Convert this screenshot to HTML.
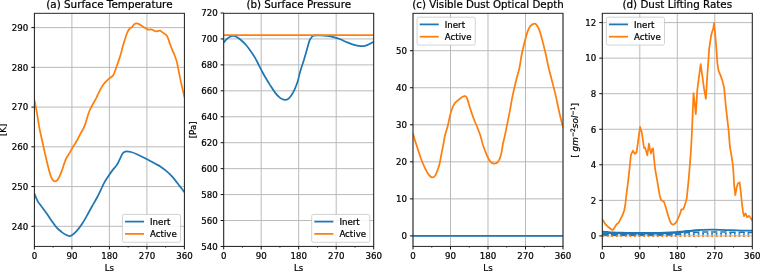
<!DOCTYPE html>
<html lang="en"><head><meta charset="utf-8"><title>Inert vs Active dust simulations</title>
<style>html,body{margin:0;padding:0;background:#fff}body{width:760px;height:271px;overflow:hidden}svg{display:block;will-change:transform}text{font-family:'DejaVu Sans', 'Liberation Sans', sans-serif;fill:#000;stroke:#000;stroke-width:0.22px;stroke-linejoin:round}</style>
</head><body>
<svg width="760" height="271" viewBox="0 0 760 271">
<rect width="760" height="271" fill="#fff"/>
<defs>
<clipPath id="c0"><rect x="34.4" y="13.3" width="150" height="233.1"/></clipPath>
<clipPath id="c1"><rect x="223.7" y="13.3" width="150" height="233.1"/></clipPath>
<clipPath id="c2"><rect x="413" y="13.3" width="150" height="233.1"/></clipPath>
<clipPath id="c3"><rect x="602.3" y="13.3" width="150" height="233.1"/></clipPath>
<clipPath id="dl"><rect x="602.3" y="13.3" width="77.5" height="233.1"/></clipPath>
<clipPath id="dr"><rect x="679.8" y="13.3" width="72.5" height="233.1"/></clipPath>
</defs>
<g>
<path d="M34.4 13.3V246.4M71.9 13.3V246.4M109.4 13.3V246.4M146.9 13.3V246.4M184.4 13.3V246.4M34.4 27.6H184.4M34.4 67.34H184.4M34.4 107.08H184.4M34.4 146.82H184.4M34.4 186.56H184.4M34.4 226.3H184.4" stroke="#b6b6b6" stroke-width="0.95" fill="none"/>
<g clip-path="url(#c0)" fill="none" stroke-linejoin="round" stroke-width="1.75">
<path d="M34.4 193.7 C34.92 194.9 36.28 198.73 37.5 200.9 C38.72 203.07 40.17 204.62 41.7 206.7 C43.23 208.78 45.03 211.03 46.7 213.4 C48.37 215.77 50.03 218.53 51.7 220.9 C53.37 223.27 55.02 225.73 56.7 227.6 C58.38 229.47 60.27 230.9 61.8 232.1 C63.33 233.3 64.7 234.15 65.9 234.8 C67.1 235.45 68.02 235.92 69 236 C69.98 236.08 70.5 236.15 71.8 235.3 C73.1 234.45 75.13 232.73 76.8 230.9 C78.47 229.07 80.13 226.8 81.8 224.3 C83.47 221.8 85.13 218.83 86.8 215.9 C88.47 212.97 90.13 209.68 91.8 206.7 C93.47 203.72 95.3 200.78 96.8 198 C98.3 195.22 99.55 192.57 100.8 190 C102.05 187.43 103.02 184.95 104.3 182.6 C105.58 180.25 107.12 177.98 108.5 175.9 C109.88 173.82 111.22 171.9 112.6 170.1 C113.98 168.3 115.6 166.92 116.8 165.1 C118 163.28 118.9 161.02 119.8 159.2 C120.7 157.38 121.45 155.4 122.2 154.2 C122.95 153 123.53 152.47 124.3 152 C125.07 151.53 125.68 151.4 126.8 151.4 C127.92 151.4 129.32 151.53 131 152 C132.68 152.47 134.8 153.28 136.9 154.2 C139 155.12 141.38 156.38 143.6 157.5 C145.82 158.62 148.25 159.87 150.2 160.9 C152.15 161.93 153.62 162.78 155.3 163.7 C156.98 164.62 158.63 165.33 160.3 166.4 C161.97 167.47 163.63 168.72 165.3 170.1 C166.97 171.48 168.63 172.98 170.3 174.7 C171.97 176.42 173.77 178.53 175.3 180.4 C176.83 182.27 178.25 184.3 179.5 185.9 C180.75 187.5 181.93 188.88 182.8 190 C183.67 191.12 184.38 192.17 184.7 192.6" stroke="#1f77b4"/>
<path d="M34.4 100 C34.78 101.95 35.9 107.23 36.7 111.7 C37.5 116.17 38.32 122.08 39.2 126.8 C40.08 131.52 41.17 136.13 42 140 C42.83 143.87 43.42 146.52 44.2 150 C44.98 153.48 45.87 157.42 46.7 160.9 C47.53 164.38 48.42 168.12 49.2 170.9 C49.98 173.68 50.7 175.98 51.4 177.6 C52.1 179.22 52.78 179.98 53.4 180.6 C54.02 181.22 54.48 181.33 55.1 181.3 C55.72 181.27 56.42 181.1 57.1 180.4 C57.78 179.7 58.42 178.68 59.2 177.1 C59.98 175.52 60.95 173.18 61.8 170.9 C62.65 168.62 63.53 165.55 64.3 163.4 C65.07 161.25 65.57 159.67 66.4 158 C67.23 156.33 68.27 155.15 69.3 153.4 C70.33 151.65 71.57 149.23 72.6 147.5 C73.63 145.77 74.73 144.25 75.5 143 C76.27 141.75 76.43 141.45 77.2 140 C77.97 138.55 79.05 136.23 80.1 134.3 C81.15 132.37 82.6 130.22 83.5 128.4 C84.4 126.58 84.8 125.48 85.5 123.4 C86.2 121.32 86.98 118.13 87.7 115.9 C88.42 113.67 88.83 112.15 89.8 110 C90.77 107.85 92.4 105.02 93.5 103 C94.6 100.98 95.58 99.5 96.4 97.9 C97.22 96.3 97.5 95.23 98.4 93.4 C99.3 91.57 100.68 88.73 101.8 86.9 C102.92 85.07 103.85 83.82 105.1 82.4 C106.35 80.98 107.97 79.57 109.3 78.4 C110.63 77.23 112.13 76.65 113.1 75.4 C114.07 74.15 114.33 72.9 115.1 70.9 C115.87 68.9 116.8 66.05 117.7 63.4 C118.6 60.75 119.67 57.77 120.5 55 C121.33 52.23 121.92 49.57 122.7 46.8 C123.48 44.03 124.37 40.92 125.2 38.4 C126.03 35.88 126.92 33.37 127.7 31.7 C128.48 30.03 129.15 29.18 129.9 28.4 C130.65 27.62 131.45 27.7 132.2 27 C132.95 26.3 133.68 24.8 134.4 24.2 C135.12 23.6 135.82 23.45 136.5 23.4 C137.18 23.35 137.47 23.4 138.5 23.9 C139.53 24.4 141.43 25.65 142.7 26.4 C143.97 27.15 145.18 27.85 146.1 28.4 C147.02 28.95 147.37 29.53 148.2 29.7 C149.03 29.87 150.2 29.28 151.1 29.4 C152 29.52 152.77 30.07 153.6 30.4 C154.43 30.73 155.05 31.35 156.1 31.4 C157.15 31.45 158.78 30.5 159.9 30.7 C161.02 30.9 161.62 31.73 162.8 32.6 C163.98 33.47 165.88 34.23 167 35.9 C168.12 37.57 168.67 40.37 169.5 42.6 C170.33 44.83 171.17 47.23 172 49.3 C172.83 51.37 173.67 52.8 174.5 55 C175.33 57.2 176.17 59.15 177 62.5 C177.83 65.85 178.67 71.05 179.5 75.1 C180.33 79.15 181.13 82.98 182 86.8 C182.87 90.62 184.25 96.13 184.7 98" stroke="#ff7f0e"/>
</g>
<path d="M34.4 246.4v3.03M71.9 246.4v3.03M109.4 246.4v3.03M146.9 246.4v3.03M184.4 246.4v3.03M34.4 27.6h-3.03M34.4 67.34h-3.03M34.4 107.08h-3.03M34.4 146.82h-3.03M34.4 186.56h-3.03M34.4 226.3h-3.03" stroke="#000" stroke-width="0.95" fill="none"/>
<path d="M53.15 246.4v1.73M90.65 246.4v1.73M128.15 246.4v1.73M165.65 246.4v1.73" stroke="#000" stroke-width="0.52" fill="none"/>
<rect x="34.4" y="13.3" width="150" height="233.1" fill="none" stroke="#1c1c1c" stroke-width="0.95"/>
<g font-size="8.65" text-anchor="middle">
<text x="34.4" y="259.3">0</text>
<text x="71.9" y="259.3">90</text>
<text x="109.4" y="259.3">180</text>
<text x="146.9" y="259.3">270</text>
<text x="184.4" y="259.3">360</text>
<text x="109.4" y="271.1">Ls</text>
</g>
<g font-size="8.65" text-anchor="end">
<text x="28.34" y="30.9">290</text>
<text x="28.34" y="70.64">280</text>
<text x="28.34" y="110.38">270</text>
<text x="28.34" y="150.12">260</text>
<text x="28.34" y="189.86">250</text>
<text x="28.34" y="229.6">240</text>
</g>
<text x="109.4" y="8.1" font-size="10.38" text-anchor="middle">(a) Surface Temperature</text>
<text transform="translate(6.3 129.85) rotate(-90)" font-size="8.65" text-anchor="middle">[K]</text>
<rect x="122.4" y="214.4" width="58.1" height="27.9" rx="1.73" fill="#fff" fill-opacity="0.87" stroke="#c6c6c6" stroke-opacity="0.9" stroke-width="0.86"/>
<path d="M125.86 221.6H143.16" stroke="#1f77b4" stroke-width="1.75" stroke-linecap="square"/>
<text x="150.08" y="224.9" font-size="8.65">Inert</text>
<path d="M125.86 233.9H143.16" stroke="#ff7f0e" stroke-width="1.75" stroke-linecap="square"/>
<text x="150.08" y="237.2" font-size="8.65">Active</text>
</g>
<g>
<path d="M223.7 13.3V246.4M261.2 13.3V246.4M298.7 13.3V246.4M336.2 13.3V246.4M373.7 13.3V246.4M223.7 38.94H373.7M223.7 64.88H373.7M223.7 90.82H373.7M223.7 116.76H373.7M223.7 142.7H373.7M223.7 168.64H373.7M223.7 194.58H373.7M223.7 220.52H373.7M223.7 246.46H373.7" stroke="#b6b6b6" stroke-width="0.95" fill="none"/>
<g clip-path="url(#c1)" fill="none" stroke-linejoin="round" stroke-width="1.75">
<path d="M223.7 42.5 C224.2 41.95 225.65 40.17 226.7 39.2 C227.75 38.23 228.88 37.25 230 36.7 C231.12 36.15 232.28 35.85 233.4 35.9 C234.52 35.95 235.45 36.32 236.7 37 C237.95 37.68 239.34 38.67 240.9 40 C242.46 41.33 244.4 43.12 246.05 45 C247.7 46.88 249.31 49.2 250.8 51.3 C252.29 53.4 253.68 55.35 255 57.6 C256.32 59.85 257.38 62.23 258.7 64.8 C260.02 67.37 261.6 70.58 262.9 73 C264.2 75.42 265.3 77.28 266.5 79.3 C267.7 81.32 268.67 82.88 270.1 85.1 C271.53 87.32 273.58 90.6 275.1 92.6 C276.62 94.6 277.95 95.98 279.2 97.1 C280.45 98.22 281.62 98.85 282.6 99.3 C283.58 99.75 284.27 99.8 285.1 99.8 C285.93 99.8 286.63 99.95 287.6 99.3 C288.57 98.65 289.78 97.43 290.9 95.9 C292.02 94.37 293.18 92.47 294.3 90.1 C295.42 87.73 296.68 84.55 297.6 81.7 C298.52 78.85 299.08 75.6 299.8 73 C300.52 70.4 301.2 68.32 301.9 66.1 C302.6 63.88 303.3 61.98 304 59.7 C304.7 57.42 305.4 54.85 306.1 52.4 C306.8 49.95 307.6 47.03 308.2 45 C308.8 42.97 309.1 41.53 309.7 40.2 C310.3 38.87 311.12 37.77 311.8 37 C312.48 36.23 312.38 35.85 313.8 35.6 C315.22 35.35 318.1 35.43 320.3 35.5 C322.5 35.57 324.78 35.72 327 36 C329.22 36.28 331.38 36.67 333.6 37.2 C335.82 37.73 338.3 38.45 340.3 39.2 C342.3 39.95 343.45 40.78 345.6 41.7 C347.75 42.62 350.68 43.95 353.2 44.7 C355.72 45.45 358.62 46.03 360.7 46.2 C362.78 46.37 364.03 46.17 365.7 45.7 C367.37 45.23 369.32 44.07 370.7 43.4 C372.08 42.73 373.45 41.98 374 41.7" stroke="#1f77b4"/>
<path d="M223.7 35.05H373.7" stroke="#ff7f0e"/>
</g>
<path d="M223.7 246.4v3.03M261.2 246.4v3.03M298.7 246.4v3.03M336.2 246.4v3.03M373.7 246.4v3.03M223.7 13h-3.03M223.7 38.94h-3.03M223.7 64.88h-3.03M223.7 90.82h-3.03M223.7 116.76h-3.03M223.7 142.7h-3.03M223.7 168.64h-3.03M223.7 194.58h-3.03M223.7 220.52h-3.03M223.7 246.46h-3.03" stroke="#000" stroke-width="0.95" fill="none"/>
<path d="M242.45 246.4v1.73M279.95 246.4v1.73M317.45 246.4v1.73M354.95 246.4v1.73" stroke="#000" stroke-width="0.52" fill="none"/>
<rect x="223.7" y="13.3" width="150" height="233.1" fill="none" stroke="#1c1c1c" stroke-width="0.95"/>
<g font-size="8.65" text-anchor="middle">
<text x="223.7" y="259.3">0</text>
<text x="261.2" y="259.3">90</text>
<text x="298.7" y="259.3">180</text>
<text x="336.2" y="259.3">270</text>
<text x="373.7" y="259.3">360</text>
<text x="298.7" y="271.1">Ls</text>
</g>
<g font-size="8.65" text-anchor="end">
<text x="217.64" y="16.3">720</text>
<text x="217.64" y="42.24">700</text>
<text x="217.64" y="68.18">680</text>
<text x="217.64" y="94.12">660</text>
<text x="217.64" y="120.06">640</text>
<text x="217.64" y="146">620</text>
<text x="217.64" y="171.94">600</text>
<text x="217.64" y="197.88">580</text>
<text x="217.64" y="223.82">560</text>
<text x="217.64" y="249.76">540</text>
</g>
<text x="298.7" y="8.1" font-size="10.33" text-anchor="middle">(b) Surface Pressure</text>
<text transform="translate(195.6 129.85) rotate(-90)" font-size="8.65" text-anchor="middle">[Pa]</text>
<rect x="311.7" y="214.4" width="58.1" height="27.9" rx="1.73" fill="#fff" fill-opacity="0.87" stroke="#c6c6c6" stroke-opacity="0.9" stroke-width="0.86"/>
<path d="M315.16 221.6H332.46" stroke="#1f77b4" stroke-width="1.75" stroke-linecap="square"/>
<text x="339.38" y="224.9" font-size="8.65">Inert</text>
<path d="M315.16 233.9H332.46" stroke="#ff7f0e" stroke-width="1.75" stroke-linecap="square"/>
<text x="339.38" y="237.2" font-size="8.65">Active</text>
</g>
<g>
<path d="M413 13.3V246.4M450.5 13.3V246.4M488 13.3V246.4M525.5 13.3V246.4M563 13.3V246.4M413 50.7H563M413 87.74H563M413 124.78H563M413 161.82H563M413 198.86H563M413 235.9H563" stroke="#b6b6b6" stroke-width="0.95" fill="none"/>
<g clip-path="url(#c2)" fill="none" stroke-linejoin="round" stroke-width="1.75">
<path d="M413 235.9H563" stroke="#1f77b4"/>
<path d="M412.9 132.7 C413.15 133.67 413.62 135.87 414.4 138.5 C415.18 141.13 416.43 144.95 417.6 148.5 C418.77 152.05 420.13 156.45 421.4 159.8 C422.67 163.15 423.95 166.08 425.2 168.6 C426.45 171.12 427.73 173.43 428.9 174.9 C430.07 176.37 431.15 177.28 432.2 177.4 C433.25 177.52 434.07 177.48 435.2 175.6 C436.33 173.72 437.95 169.77 439 166.1 C440.05 162.43 440.67 157.78 441.5 153.6 C442.33 149.42 443.45 143.93 444 141 C444.55 138.07 444.17 138.55 444.8 136 C445.43 133.45 446.88 129.3 447.8 125.7 C448.72 122.1 449.47 117.53 450.3 114.4 C451.13 111.27 451.97 108.87 452.8 106.9 C453.63 104.93 454.38 103.73 455.3 102.6 C456.22 101.47 457.15 101.05 458.3 100.1 C459.45 99.15 461.02 97.57 462.2 96.9 C463.38 96.23 464.57 95.82 465.4 96.1 C466.23 96.38 466.48 96.8 467.2 98.6 C467.92 100.4 468.65 103.63 469.7 106.9 C470.75 110.17 472.25 114.85 473.5 118.2 C474.75 121.55 476.03 124.03 477.2 127 C478.37 129.97 479.55 133.03 480.5 136 C481.45 138.97 481.87 141.67 482.9 144.8 C483.93 147.93 485.45 152 486.7 154.8 C487.95 157.6 489.15 160.13 490.4 161.6 C491.65 163.07 492.93 163.55 494.2 163.6 C495.47 163.65 496.87 163.37 498 161.9 C499.13 160.43 500.17 157.87 501 154.8 C501.83 151.73 502.37 146.63 503 143.5 C503.63 140.37 504.07 139.38 504.8 136 C505.53 132.62 506.55 127.42 507.4 123.2 C508.25 118.98 509.07 115.08 509.9 110.7 C510.73 106.32 511.37 101.93 512.4 96.9 C513.43 91.87 514.93 85.32 516.1 80.5 C517.27 75.68 518.45 72.42 519.4 68 C520.35 63.58 520.85 58.63 521.8 54 C522.75 49.37 524.05 44.18 525.1 40.2 C526.15 36.22 527.18 32.48 528.1 30.1 C529.02 27.72 529.68 26.95 530.6 25.9 C531.52 24.85 532.68 24.07 533.6 23.8 C534.52 23.53 535.13 23.25 536.1 24.3 C537.07 25.35 538.32 27.25 539.4 30.1 C540.48 32.95 541.55 37.42 542.6 41.4 C543.65 45.38 544.68 49.57 545.7 54 C546.72 58.43 547.67 63.58 548.7 68 C549.73 72.42 550.73 75.9 551.9 80.5 C553.07 85.1 554.43 90.15 555.7 95.6 C556.97 101.05 558.25 107.77 559.5 113.2 C560.75 118.63 562.58 125.7 563.2 128.2" stroke="#ff7f0e"/>
</g>
<path d="M413 246.4v3.03M450.5 246.4v3.03M488 246.4v3.03M525.5 246.4v3.03M563 246.4v3.03M413 50.7h-3.03M413 87.74h-3.03M413 124.78h-3.03M413 161.82h-3.03M413 198.86h-3.03M413 235.9h-3.03" stroke="#000" stroke-width="0.95" fill="none"/>
<path d="M431.75 246.4v1.73M469.25 246.4v1.73M506.75 246.4v1.73M544.25 246.4v1.73" stroke="#000" stroke-width="0.52" fill="none"/>
<rect x="413" y="13.3" width="150" height="233.1" fill="none" stroke="#1c1c1c" stroke-width="0.95"/>
<g font-size="8.65" text-anchor="middle">
<text x="413" y="259.3">0</text>
<text x="450.5" y="259.3">90</text>
<text x="488" y="259.3">180</text>
<text x="525.5" y="259.3">270</text>
<text x="563" y="259.3">360</text>
<text x="488" y="271.1">Ls</text>
</g>
<g font-size="8.65" text-anchor="end">
<text x="406.94" y="54">50</text>
<text x="406.94" y="91.04">40</text>
<text x="406.94" y="128.08">30</text>
<text x="406.94" y="165.12">20</text>
<text x="406.94" y="202.16">10</text>
<text x="406.94" y="239.2">0</text>
</g>
<text x="488" y="8.1" font-size="10.25" text-anchor="middle">(c) Visible Dust Optical Depth</text>
<rect x="417.1" y="17.2" width="58.1" height="27.9" rx="1.73" fill="#fff" fill-opacity="0.87" stroke="#c6c6c6" stroke-opacity="0.9" stroke-width="0.86"/>
<path d="M420.56 24.4H437.86" stroke="#1f77b4" stroke-width="1.75" stroke-linecap="square"/>
<text x="444.78" y="27.7" font-size="8.65">Inert</text>
<path d="M420.56 36.7H437.86" stroke="#ff7f0e" stroke-width="1.75" stroke-linecap="square"/>
<text x="444.78" y="40" font-size="8.65">Active</text>
</g>
<g>
<path d="M602.3 13.3V246.4M639.8 13.3V246.4M677.3 13.3V246.4M714.8 13.3V246.4M752.3 13.3V246.4M602.3 22.6H752.3M602.3 58.15H752.3M602.3 93.7H752.3M602.3 129.25H752.3M602.3 164.8H752.3M602.3 200.35H752.3M602.3 235.9H752.3" stroke="#b6b6b6" stroke-width="0.95" fill="none"/>
<g clip-path="url(#c3)" fill="none" stroke-linejoin="round" stroke-width="1.75">
<path d="M602.3 231.46 C603.13 231.55 605.56 231.83 607.3 231.99 C609.04 232.15 610.42 232.31 612.72 232.43 C615.01 232.56 617.92 232.66 621.05 232.74 C624.17 232.82 628.34 232.88 631.47 232.91 C634.59 232.95 636.33 232.97 639.8 232.97 C643.27 232.97 648.13 232.97 652.3 232.91 C656.47 232.85 660.98 232.75 664.8 232.61 C668.62 232.47 672.09 232.3 675.22 232.08 C678.34 231.86 680.77 231.53 683.55 231.28 C686.33 231.03 688.76 230.79 691.88 230.57 C695.01 230.35 699.04 230.11 702.3 229.95 C705.56 229.78 708.34 229.62 711.47 229.59 C714.59 229.56 717.72 229.66 721.05 229.77 C724.38 229.87 727.99 230.08 731.47 230.21 C734.94 230.35 738.41 230.49 741.88 230.57 C745.36 230.64 750.56 230.64 752.3 230.66" stroke="#1f77b4"/>
<path d="M602.3 233.23 C603.13 233.23 605.56 233.22 607.3 233.23 C609.04 233.25 610.42 233.28 612.72 233.32 C615.01 233.37 617.92 233.45 621.05 233.5 C624.17 233.55 628.34 233.6 631.47 233.62 C634.59 233.65 636.33 233.68 639.8 233.68 C643.27 233.68 648.13 233.69 652.3 233.64 C656.47 233.6 660.98 233.54 664.8 233.41 C668.62 233.28 672.09 233.13 675.22 232.88 C678.34 232.63 680.77 232.24 683.55 231.9 C686.33 231.56 689.11 231.13 691.88 230.83 C694.66 230.54 698.83 230.24 700.22 230.12" stroke="#1f77b4"/>
<g clip-path="url(#dl)"><path d="M602.3 234.9 C606.47 234.91 618.97 234.93 627.3 234.94 C635.63 234.95 645.36 234.96 652.3 234.94 C659.24 234.92 664.8 234.93 668.97 234.8 C673.13 234.66 674.87 234.41 677.3 234.12 C679.73 233.83 681.12 233.34 683.55 233.06 C685.98 232.77 688.76 232.59 691.88 232.43 C695.01 232.28 698.83 232.19 702.3 232.11 C705.77 232.04 708.55 231.99 712.72 231.99 C716.88 231.99 722.44 232.07 727.3 232.13 C732.16 232.19 737.72 232.29 741.88 232.34 C746.05 232.4 750.56 232.42 752.3 232.43" stroke="#1f77b4" stroke-width="1.95" stroke-dasharray="6.35 2.74" stroke-dashoffset="0.05"/></g>
<g clip-path="url(#dr)"><path d="M602.3 234.9 C606.47 234.91 618.97 234.93 627.3 234.94 C635.63 234.95 645.36 234.96 652.3 234.94 C659.24 234.92 664.8 234.93 668.97 234.8 C673.13 234.66 674.87 234.41 677.3 234.12 C679.73 233.83 681.12 233.34 683.55 233.06 C685.98 232.77 688.76 232.59 691.88 232.43 C695.01 232.28 698.83 232.19 702.3 232.11 C705.77 232.04 708.55 231.99 712.72 231.99 C716.88 231.99 722.44 232.07 727.3 232.13 C732.16 232.19 737.72 232.29 741.88 232.34 C746.05 232.4 750.56 232.42 752.3 232.43" stroke="#1f77b4" stroke-width="1.5" stroke-dasharray="6.35 2.74" stroke-dashoffset="0.05"/></g>
<path d="M602.3 234.83 C608.55 234.83 628.34 234.85 639.8 234.83 C651.26 234.82 664.45 234.8 671.05 234.74 C677.65 234.69 676.61 234.58 679.38 234.48 C682.16 234.37 683.9 234.21 687.72 234.12 C691.54 234.03 697.79 233.98 702.3 233.94 C706.81 233.91 709.24 233.89 714.8 233.89 C720.36 233.9 729.38 233.96 735.63 233.98 C741.88 234 749.52 234.02 752.3 234.03" stroke="#1f77b4" stroke-width="1.7" stroke-dasharray="1.8 2.74" stroke-dashoffset="0.05"/>
<path d="M602.3 219.2 L605.2 224 L608.6 227.3 L610.9 229 L611.9 229.75 L612.6 230 L613.3 229.6 L614.3 227.9 L616.7 224.2 L618.7 222.6 L620.9 218.4 L622.6 215 L624.2 210.5 L625.3 205 L626 198 L627 190 L628.1 181.7 L629.2 171.7 L630.2 162 L630.9 155.1 L632.9 150.6 L634.8 153.8 L636.5 152.5 L637.6 145.1 L638.8 135.9 L640.1 126.9 L641.8 132.5 L643.1 141.7 L644 148 L645.1 147.7 L646.3 151.7 L647.3 155.3 L648.1 149.5 L649 143.7 L650 150 L651 153.4 L652 149.2 L653 148.4 L653.9 157.5 L655.2 169.5 L656.8 178.4 L658.5 188.4 L659.8 195.9 L661 199.8 L662.2 200.9 L663.7 201.2 L665.3 205.5 L666.8 210.9 L668.5 216.7 L670.2 221.7 L671.9 224.2 L673 224.7 L675.2 223.4 L676.9 220.9 L678.5 217.5 L680.2 213.4 L681.4 209.3 L683.3 209.4 L684.6 205.8 L685.6 202.5 L686.7 198.5 L687.6 190 L688.5 181 L689.3 172 L690 163 L690.7 154 L691.4 143 L692 130 L692.6 115 L693.5 93.1 L694.5 102 L695.8 114.2 L697.3 90 L699 76.7 L700.7 64.2 L702.4 76.7 L704 88.4 L705.9 98.8 L707.2 76.7 L708.2 63.4 L709.2 48.4 L711.2 35.1 L712.4 30.9 L713.2 29.2 L714.05 23 L714.9 31.7 L716.4 48.4 L717.4 63.4 L718.6 70.9 L720.7 75.9 L722.4 80.9 L724.1 87.6 L725 97 L725.7 105 L727.4 120.1 L728.6 130.1 L729.9 146.7 L731.6 156.7 L732.9 165.1 L733.6 175 L734.1 185 L735.3 195.1 L736.6 187.5 L737.9 183.4 L739.6 182.5 L740.8 191.7 L742 204 L743 211.7 L744 216.2 L745.5 213.4 L747.2 217.3 L748.8 215.9 L750.4 217.5 L752.6 220.9" stroke="#ff7f0e"/>
<path d="M602.3 236.05H752.3" stroke="#ff7f0e" stroke-width="1.7" stroke-dasharray="1.8 2.74" stroke-dashoffset="0.05"/>
</g>
<path d="M602.3 246.4v3.03M639.8 246.4v3.03M677.3 246.4v3.03M714.8 246.4v3.03M752.3 246.4v3.03M602.3 22.6h-3.03M602.3 58.15h-3.03M602.3 93.7h-3.03M602.3 129.25h-3.03M602.3 164.8h-3.03M602.3 200.35h-3.03M602.3 235.9h-3.03" stroke="#000" stroke-width="0.95" fill="none"/>
<path d="M621.05 246.4v1.73M658.55 246.4v1.73M696.05 246.4v1.73M733.55 246.4v1.73" stroke="#000" stroke-width="0.52" fill="none"/>
<rect x="602.3" y="13.3" width="150" height="233.1" fill="none" stroke="#1c1c1c" stroke-width="0.95"/>
<g font-size="8.65" text-anchor="middle">
<text x="602.3" y="259.3">0</text>
<text x="639.8" y="259.3">90</text>
<text x="677.3" y="259.3">180</text>
<text x="714.8" y="259.3">270</text>
<text x="752.3" y="259.3">360</text>
<text x="677.3" y="271.1">Ls</text>
</g>
<g font-size="8.65" text-anchor="end">
<text x="596.25" y="25.9">12</text>
<text x="596.25" y="61.45">10</text>
<text x="596.25" y="97">8</text>
<text x="596.25" y="132.55">6</text>
<text x="596.25" y="168.1">4</text>
<text x="596.25" y="203.65">2</text>
<text x="596.25" y="239.2">0</text>
</g>
<text x="677.3" y="8.1" font-size="10.33" text-anchor="middle">(d) Dust Lifting Rates</text>
<text transform="translate(578.2 130.45) rotate(-90)" font-size="8.95" text-anchor="middle">[ <tspan font-style="italic">gm</tspan><tspan font-size="6.05" dy="-3.11">−2</tspan><tspan font-style="italic" dy="3.11">sol</tspan><tspan font-size="6.05" dy="-3.11">−1</tspan><tspan dy="3.11">]</tspan></text>
<rect x="606.4" y="17.2" width="58.1" height="27.9" rx="1.73" fill="#fff" fill-opacity="0.87" stroke="#c6c6c6" stroke-opacity="0.9" stroke-width="0.86"/>
<path d="M609.86 24.4H627.16" stroke="#1f77b4" stroke-width="1.75" stroke-linecap="square"/>
<text x="634.08" y="27.7" font-size="8.65">Inert</text>
<path d="M609.86 36.7H627.16" stroke="#ff7f0e" stroke-width="1.75" stroke-linecap="square"/>
<text x="634.08" y="40" font-size="8.65">Active</text>
</g>
</svg>
</body></html>
